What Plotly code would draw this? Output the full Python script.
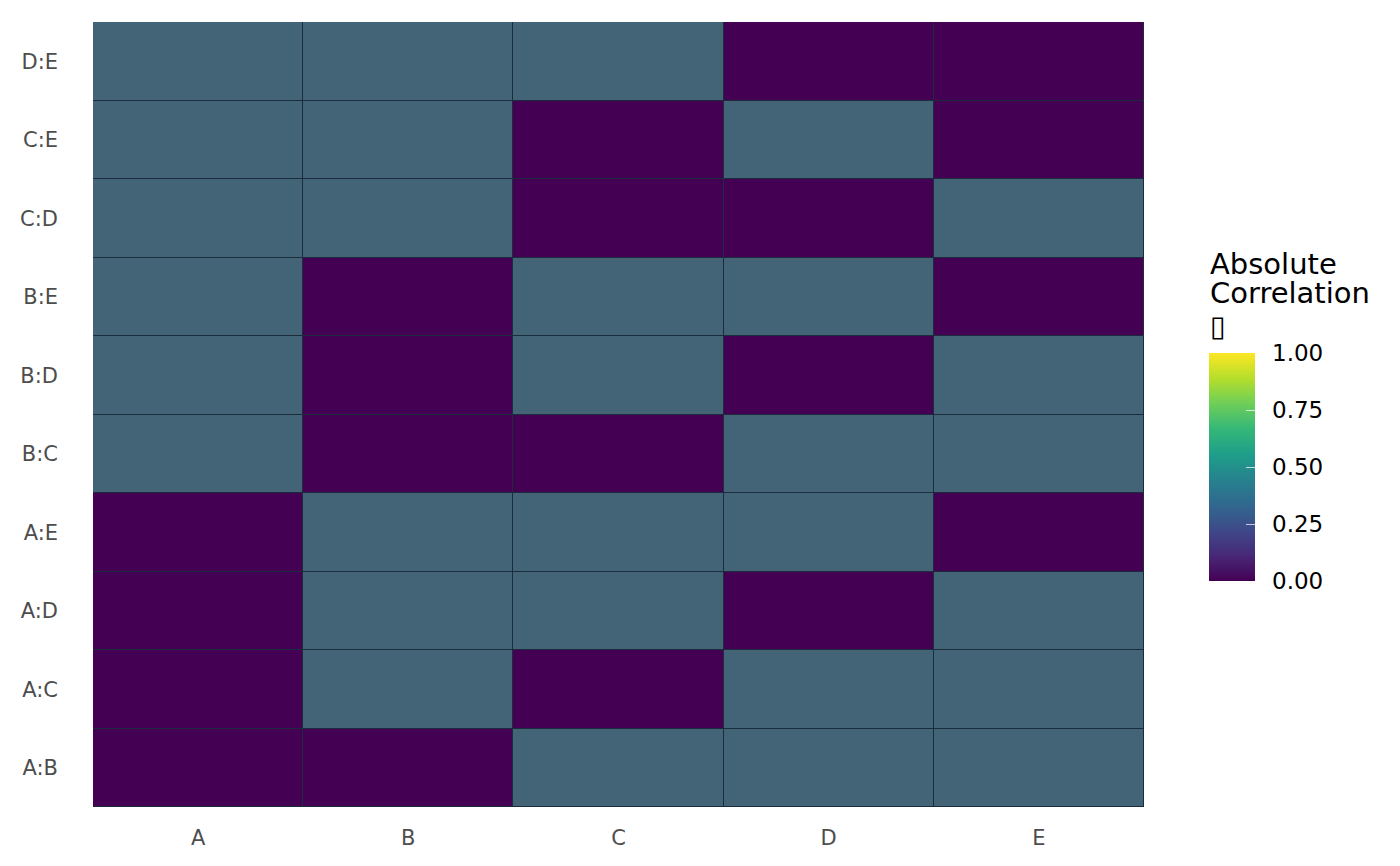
import plotly.graph_objects as go

x_vars = ["A", "B", "C", "D", "E"]
pairs = ["A:B", "A:C", "A:D", "A:E", "B:C", "B:D", "B:E", "C:D", "C:E", "D:E"]
# absolute correlation per (pair row, variable column)
corr = [
    [0.0, 0.0, 0.3, 0.3, 0.3],  # A:B
    [0.0, 0.3, 0.0, 0.3, 0.3],  # A:C
    [0.0, 0.3, 0.3, 0.0, 0.3],  # A:D
    [0.0, 0.3, 0.3, 0.3, 0.0],  # A:E
    [0.3, 0.0, 0.0, 0.3, 0.3],  # B:C
    [0.3, 0.0, 0.3, 0.0, 0.3],  # B:D
    [0.3, 0.0, 0.3, 0.3, 0.0],  # B:E
    [0.3, 0.3, 0.0, 0.0, 0.3],  # C:D
    [0.3, 0.3, 0.0, 0.3, 0.0],  # C:E
    [0.3, 0.3, 0.3, 0.0, 0.0],  # D:E
]
cbar_ticks = [0.0, 0.25, 0.5, 0.75, 1.0]
cbar_ticklabels = ["0.00", "0.25", "0.50", "0.75", "1.00"]
legend_title_lines = ["Absolute", "Correlation", "\u25af"]

FONT = "DejaVu Sans"
W, H = 1392, 858
L, R, T, B = 81, 256, 14, 59
PH = H - T - B


def py(screen_y):
    # screen y (page) -> paper y
    return (H - B + 8 - screen_y) / PH


def px(screen_x):
    return (screen_x - 8 - L) / (W - L - R)


fig = go.Figure()
fig.add_trace(go.Heatmap(
    x=x_vars, y=pairs, z=corr,
    zmin=0, zmax=0.3,
    colorscale=[[0, "#440154"], [1, "#426476"]],
    showscale=False, xgap=1, ygap=1,
    hovertemplate="%{x} / %{y}: %{z}<extra></extra>",
))
# colorbar (viridis legend)
fig.add_trace(go.Scatter(
    x=[None], y=[None], mode="markers", hoverinfo="skip", showlegend=False,
    marker=dict(
        color=[0, 1], cmin=0, cmax=1, colorscale="Viridis", showscale=True,
        colorbar=dict(
            xref="container", yref="paper",
            x=(1209 - 8) / W, xanchor="left",
            y=py(467), yanchor="middle",
            len=228, lenmode="pixels", thickness=46,
            xpad=0, ypad=0,
            outlinewidth=0,
            tickvals=cbar_ticks,
            ticktext=["\u00a0\u2009" + t for t in cbar_ticklabels],
            ticks="inside", ticklen=9, tickcolor="rgba(255,255,255,0.7)",
            tickfont=dict(family=FONT, size=23, color="#000000"),
        ),
    ),
))

for line, sy in zip(legend_title_lines, [264, 293, 326]):
    fig.add_annotation(
        xref="paper", yref="paper", x=px(1208), y=py(sy),
        xanchor="left", yanchor="middle", align="left", showarrow=False,
        text=line, font=dict(family=FONT, size=29, color="#000000"),
    )

fig.update_layout(
    width=W, height=H,
    margin=dict(l=L, r=R, t=T, b=B),
    paper_bgcolor="white", plot_bgcolor="#1b2c3d",
    font=dict(family=FONT),
    xaxis=dict(showgrid=False, zeroline=False, ticks="", showline=False,
               tickfont=dict(family=FONT, size=21, color="#4d4d4d"),
               categoryorder="array", categoryarray=x_vars, ticklabelstandoff=16),
    yaxis=dict(showgrid=False, zeroline=False, ticks="", showline=False,
               tickfont=dict(family=FONT, size=21, color="#4d4d4d"),
               categoryorder="array", categoryarray=pairs, ticklabelstandoff=34),
)

fig.write_html("out.html")
